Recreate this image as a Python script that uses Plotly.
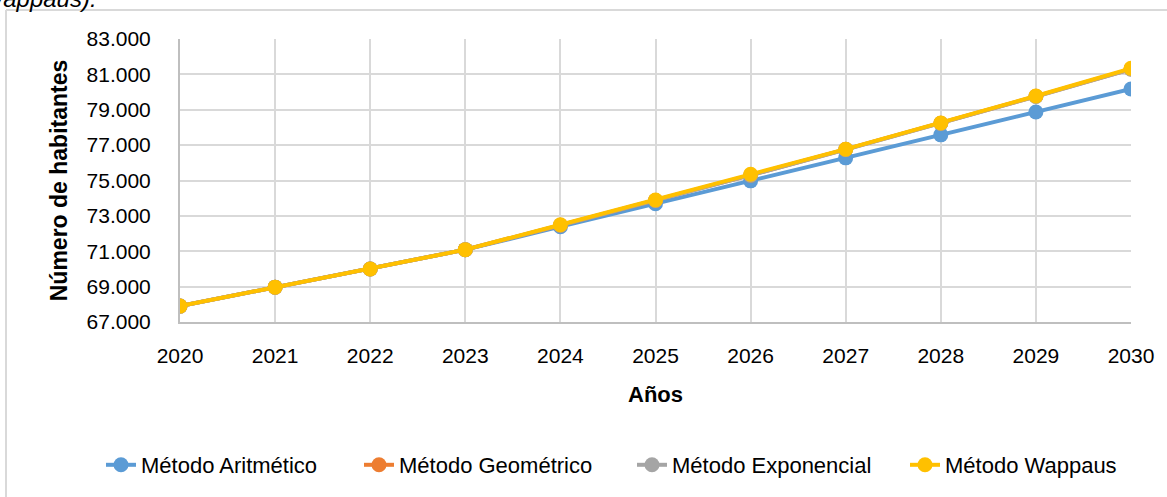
import plotly.graph_objects as go

years = [2020, 2021, 2022, 2023, 2024, 2025, 2026, 2027, 2028, 2029, 2030]
aritmetico = [67900, 68970, 70000, 71090, 72390, 73690, 74980, 76280, 77580, 78870, 80170]
geometrico = [67900, 68970, 70000, 71090, 72470, 73870, 75300, 76760, 78240, 79760, 81300]
exponencial = [67900, 68970, 70000, 71090, 72470, 73870, 75300, 76750, 78230, 79750, 81290]
wappaus = [67900, 68970, 70000, 71090, 72500, 73900, 75350, 76770, 78250, 79780, 81340]

names = ["Método Aritmético", "Método Geométrico", "Método Exponencial", "Método Wappaus"]
series = [aritmetico, geometrico, exponencial, wappaus]
colors = ["#5B9BD5", "#ED7D31", "#A5A5A5", "#FFC000"]

W, H = 1167, 497
L, R, T, B = 180, 36, 39, 174
pw, ph = W - L - R, H - T - B

def px(x):
    return (x - L) / pw

def py(y):
    return (H - B - y) / ph

FONT = "Liberation Sans"
legend_ids = ["legend", "legend2", "legend3", "legend4"]
legend_x = [101, 359, 632, 905]

fig = go.Figure()
for n, s, c, lid in zip(names, series, colors, legend_ids):
    fig.add_trace(go.Scatter(
        x=years, y=s, name=n, mode="lines+markers",
        line=dict(color=c, width=4),
        marker=dict(color=c, size=15, symbol="circle"),
        legend=lid,
    ))

legend_layout = {}
for lid, lx in zip(legend_ids, legend_x):
    legend_layout[lid] = dict(
        orientation="h", x=px(lx), xanchor="left", y=py(465), yanchor="middle",
        font=dict(family=FONT, size=22, color="#000000"),
        itemwidth=30, bgcolor="rgba(0,0,0,0)", borderwidth=0,
    )

fig.update_layout(
    width=W, height=H,
    margin=dict(l=L, r=R, t=T, b=B),
    paper_bgcolor="white", plot_bgcolor="white",
    separators=",.",
    font=dict(family=FONT, size=21, color="#000000"),
    showlegend=True,
    xaxis=dict(
        range=[2020, 2030], tickmode="array", tickvals=years,
        ticktext=[str(y) for y in years],
        showgrid=True, gridcolor="#D9D9D9", gridwidth=1.5,
        showline=True, linecolor="#BFBFBF", linewidth=2,
        ticks="", ticklabelstandoff=14, zeroline=False,
        tickfont=dict(family=FONT, size=21),
        title=dict(text="<b>Años</b>", font=dict(family=FONT, size=22), standoff=20),
    ),
    yaxis=dict(
        range=[67000, 83000], dtick=2000, tick0=67000, tickformat=",d",
        showgrid=True, gridcolor="#D9D9D9", gridwidth=1.5,
        showline=True, linecolor="#BFBFBF", linewidth=2,
        ticks="", ticklabelstandoff=23, zeroline=False,
        tickfont=dict(family=FONT, size=21),
        title=dict(text="<b>Número de habitantes</b>", font=dict(family=FONT, size=23), standoff=13),
    ),
    shapes=[
        dict(type="line", xref="paper", yref="paper", x0=px(6), x1=px(W + 5), y0=py(10), y1=py(10),
             line=dict(color="#D9D9D9", width=2)),
        dict(type="line", xref="paper", yref="paper", x0=px(6), x1=px(6), y0=py(10), y1=py(H + 5),
             line=dict(color="#D9D9D9", width=2)),
    ],
    annotations=[
        dict(text="<i>(Wappaus).</i>", xref="paper", yref="paper", x=px(99), y=py(14),
             xanchor="right", yanchor="bottom", showarrow=False,
             font=dict(family=FONT, size=24, color="#000000")),
    ],
)
for lid in legend_ids:
    fig.layout[lid] = legend_layout[lid]

fig.write_html("out.html", config={"displayModeBar": False},
               post_script="document.body.style.margin='0';document.body.style.overflow='hidden';")
